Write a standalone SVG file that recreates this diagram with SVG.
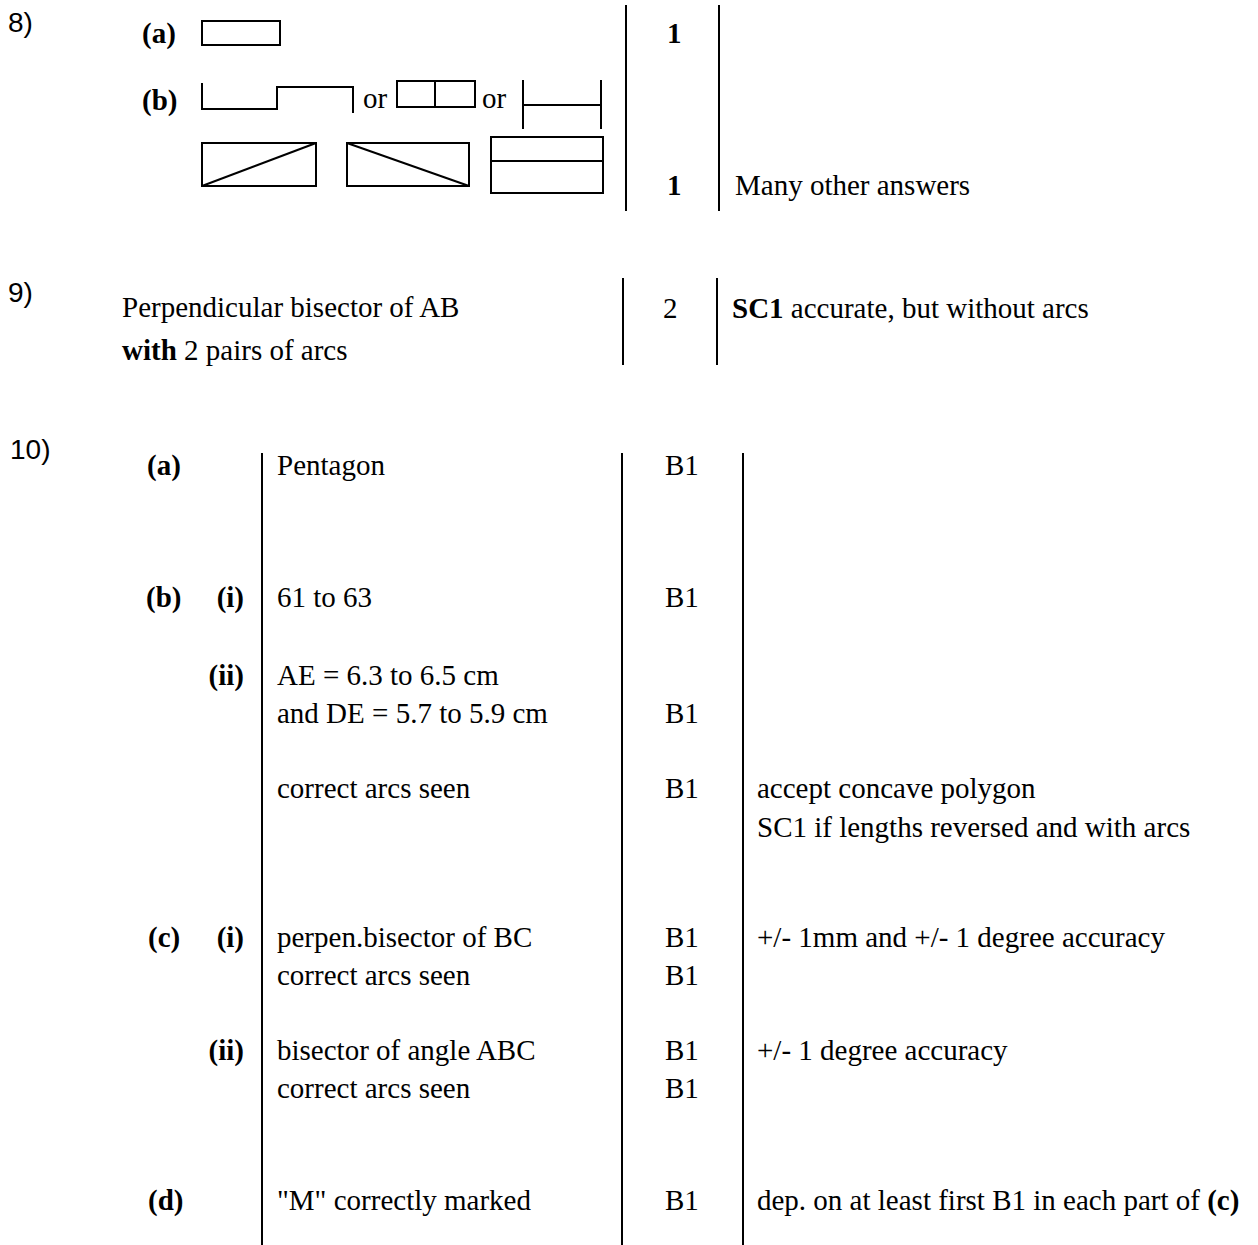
<svg xmlns="http://www.w3.org/2000/svg" width="1258" height="1245" viewBox="0 0 1258 1245">
<style>
text{font-family:"Liberation Serif","Times New Roman",serif;font-size:29px;fill:#000}
.num{font-family:"Liberation Sans",Arial,sans-serif;font-size:28px}
.b{font-weight:bold}
.r{text-anchor:end}
.ln{stroke:#000;stroke-width:2;fill:none}
.sh{stroke:#000;stroke-width:2;fill:none}
</style>
<rect width="1258" height="1245" fill="#fff"/>
<g id="connectors">
<line class="ln" x1="626" y1="5" x2="626" y2="211"/>
<line class="ln" x1="719" y1="5" x2="719" y2="211"/>
<line class="ln" x1="623" y1="278" x2="623" y2="365"/>
<line class="ln" x1="717" y1="278" x2="717" y2="365"/>
<line class="ln" x1="262" y1="453" x2="262" y2="1245"/>
<line class="ln" x1="622" y1="453" x2="622" y2="1245"/>
<line class="ln" x1="743" y1="453" x2="743" y2="1245"/>
</g>
<g id="q8">
<text class="num" x="8" y="32">8)</text>
<text class="b" x="142" y="43">(a)</text>
<rect class="sh" x="202" y="21" width="78" height="24"/>
<text class="b" x="142" y="110">(b)</text>
<path class="sh" d="M202,83 V109 H277 V87 H353 V113"/>
<text x="363" y="108">or</text>
<rect class="sh" x="397" y="81" width="78" height="26"/>
<line class="sh" x1="435" y1="81" x2="435" y2="107"/>
<text x="482" y="108">or</text>
<path class="sh" d="M523,80 V129 M601,80 V129 M523,105 H601"/>
<rect class="sh" x="202" y="143" width="114" height="43"/>
<line class="sh" x1="202" y1="186" x2="316" y2="143"/>
<rect class="sh" x="347" y="143" width="122" height="43"/>
<line class="sh" x1="347" y1="143" x2="469" y2="186"/>
<rect class="sh" x="491" y="137" width="112" height="56"/>
<line class="sh" x1="491" y1="161" x2="603" y2="161"/>
<text class="b" x="667" y="43">1</text>
<text class="b" x="667" y="195">1</text>
<text x="735" y="195">Many other answers</text>
</g>
<g id="q9">
<text class="num" x="8" y="302">9)</text>
<text x="122" y="317">Perpendicular bisector of AB</text>
<text x="122" y="360"><tspan class="b">with</tspan> 2 pairs of arcs</text>
<text x="663" y="318">2</text>
<text x="732" y="318"><tspan class="b">SC1</tspan> accurate, but without arcs</text>
</g>
<g id="q10">
<text class="num" x="10" y="459">10)</text>
<text class="b" x="147" y="475">(a)</text>
<text x="277" y="475">Pentagon</text>
<text x="665" y="475">B1</text>
<text class="b" x="146" y="607">(b)</text>
<text class="b r" x="244" y="607">(i)</text>
<text x="277" y="607">61 to 63</text>
<text x="665" y="607">B1</text>
<text class="b r" x="244" y="685">(ii)</text>
<text x="277" y="685">AE = 6.3 to 6.5 cm</text>
<text x="277" y="723">and DE = 5.7 to 5.9 cm</text>
<text x="665" y="723">B1</text>
<text x="277" y="798">correct arcs seen</text>
<text x="665" y="798">B1</text>
<text x="757" y="798">accept concave polygon</text>
<text x="757" y="837">SC1 if lengths reversed and with arcs</text>
<text class="b" x="148" y="947">(c)</text>
<text class="b r" x="244" y="947">(i)</text>
<text x="277" y="947">perpen.bisector of BC</text>
<text x="665" y="947">B1</text>
<text x="757" y="947">+/- 1mm and +/- 1 degree accuracy</text>
<text x="277" y="985">correct arcs seen</text>
<text x="665" y="985">B1</text>
<text class="b r" x="244" y="1060">(ii)</text>
<text x="277" y="1060">bisector of angle ABC</text>
<text x="665" y="1060">B1</text>
<text x="757" y="1060">+/- 1 degree accuracy</text>
<text x="277" y="1098">correct arcs seen</text>
<text x="665" y="1098">B1</text>
<text class="b" x="148" y="1210">(d)</text>
<text x="277" y="1210">"M" correctly marked</text>
<text x="665" y="1210">B1</text>
<text x="757" y="1210">dep. on at least first B1 in each part of <tspan class="b">(c)</tspan></text>
</g>
</svg>
